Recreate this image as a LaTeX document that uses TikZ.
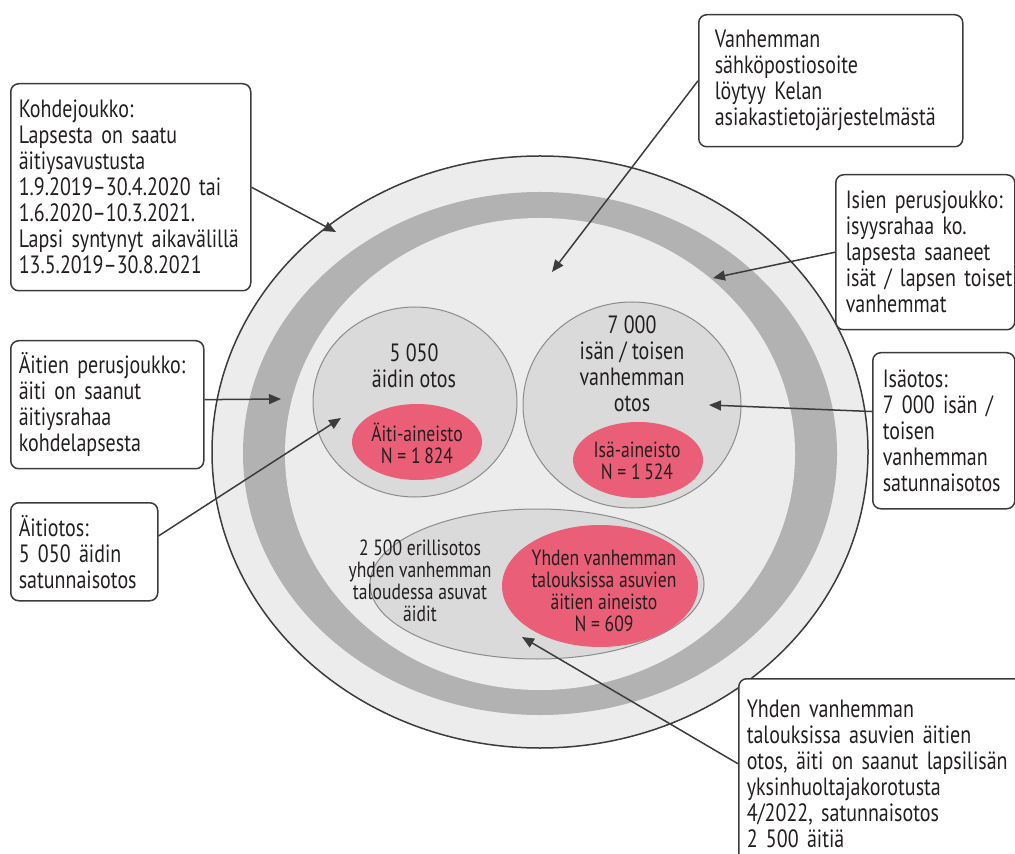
\documentclass[tikz,border=0pt]{standalone}
\usepackage{fontspec}
\setmainfont[FakeStretch=0.8]{PT Sans}
\usetikzlibrary{arrows.meta, positioning, shapes.geometric}
\usepackage{xcolor}
\definecolor{lightfill}{RGB}{236,236,236}
\definecolor{ringfill}{RGB}{178,178,178}
\definecolor{samplefill}{RGB}{219,218,219}
\definecolor{sampleline}{RGB}{140,140,140}
\definecolor{datared}{RGB}{235,94,119}
\definecolor{darkline}{RGB}{60,60,60}
\definecolor{textdark}{RGB}{35,31,32}
\def\boxfont{\fontsize{12.5}{13}\selectfont\hyphenpenalty=10000\relax}
\def\smallfont{\fontsize{11}{11}\selectfont}

\begin{document}
\begin{tikzpicture}[x=0.5pt, y=-0.5pt, >={Triangle[length=6pt,width=5pt]}, text=textdark]
    \tikzstyle{infobox}=[draw=darkline, line width=0.75pt, rounded corners=4pt, fill=white, align=left, inner sep=4pt, anchor=north west, font=\boxfont]
    \tikzstyle{disc}=[ellipse, inner sep=0pt]
    \tikzstyle{sample}=[disc, fill=samplefill, draw=sampleline, line width=0.5pt]
    \tikzstyle{data}=[disc, fill=datared]
    \tikzstyle{pointer}=[->, draw=darkline, line width=0.75pt]
    \useasboundingbox (0,0) rectangle (1015,854);

    % Population circle and the ring
    \node[disc, fill=lightfill, draw=darkline, line width=0.75pt, minimum width=328pt, minimum height=296pt] (perus) at (540,452) {};
    \node[disc, fill=ringfill, minimum width=297pt, minimum height=261.5pt] (ring) at (540,453.5) {};
    \node[disc, fill=lightfill, minimum width=255pt, minimum height=236pt] (sisa) at (540,454) {};

    % Samples
    \node[sample, minimum width=102pt, minimum height=95pt] (aiti) at (415,402) {};
    \node[data, minimum width=65pt, minimum height=38pt] (aiti-N) at (417,442) {};
    \node[sample, minimum width=109pt, minimum height=103pt] (isa) at (632,405) {};
    \node[data, minimum width=65pt, minimum height=38pt] (isa-N) at (638,460) {};
    \node[sample, minimum width=167pt, minimum height=75pt] (yksin) at (537,584) {};
    \node[data, minimum width=98pt, minimum height=61pt] (yksin-N) at (600,586) {};

    % Texts in the samples
    \node[align=center, font=\boxfont] (aiti-t) at (414,366) {5 050\\äidin otos};
    \node[align=center, font=\smallfont] (aiti-Nt) at (417,443) {Äiti-aineisto\\N = 1\,824};
    \node[align=center, font=\boxfont] (isa-t) at (632,364) {7 000\\isän / toisen\\vanhemman\\otos};
    \node[align=center, font=\smallfont] (isa-Nt) at (637,461) {Isä-aineisto\\N = 1\,524};
    \node[align=center, font=\smallfont] (yksin-t) at (420,581) {2 500 erillisotos\\yhden vanhemman\\taloudessa asuvat\\äidit};
    \node[align=center, font=\smallfont] (yksin-Nt) at (604,591) {Yhden vanhemman\\talouksissa asuvien\\äitien aineisto\\N = 609};

    % Explanation boxes (top left corners)
    \node[infobox, minimum width=120pt, minimum height=103.5pt, text width=112pt] (kohde) at (10,83) {Kohdejoukko:\\Lapsesta on saatu\\äitiysavustusta\\1.9.2019--30.4.2020~tai\\1.6.2020--10.3.2021.\\Lapsi~syntynyt~aikavälillä\\13.5.2019--30.8.2021};
    \node[infobox, inner xsep=8pt, minimum width=132pt, minimum height=66pt, text width=116pt] (sahko) at (698,14) {Vanhemman\\sähköpostiosoite\\löytyy Kelan\\asiakastietojärjestelmästä};
    \node[infobox, inner xsep=5pt, minimum width=89.5pt, minimum height=77.5pt, text width=79.5pt] (isien) at (835,174) {Isien~perusjoukko:\\isyysrahaa ko.\\lapsesta~saaneet\\isät~/~lapsen~toiset\\vanhemmat};
    \node[infobox, minimum width=96.5pt, minimum height=64pt, text width=88.5pt] (aitien) at (10,340) {Äitien~perusjoukko:\\äiti on saanut\\äitiysrahaa\\kohdelapsesta};
    \node[infobox, minimum width=73.5pt, minimum height=49pt, text width=65.5pt] (aitiotos) at (10,502) {Äitiotos:\\5 050~äidin\\satunnaisotos};
    \node[infobox, inner xsep=5pt, minimum width=71pt, minimum height=78pt, text width=61pt] (isaotos) at (872,352) {Isäotos:\\7~000~isän~/\\toisen\\vanhemman\\satunnaisotos};
    \node[infobox, minimum width=138pt, minimum height=95pt, text width=134pt] (yksinb) at (738,678) {Yhden vanhemman\\talouksissa~asuvien~äitien\\otos,~äiti~on~saanut~lapsilisän\\yksinhuoltajakorotusta\\4/2022, satunnaisotos\\2~500~äitiä};

    % Arrow tips
    \coordinate (t-kohde) at (336,232);
    \coordinate (t-sahko) at (552,272);
    \coordinate (t-isien) at (713,278);
    \coordinate (t-aitien) at (281,399);
    \coordinate (t-aitiotos) at (341,418);
    \coordinate (t-isaotos) at (709,405);
    \coordinate (t-yksinb) at (522,637);

    % Connect every box with its part of the picture
    \foreach \source/\dest in {kohde.east/t-kohde, sahko.west/t-sahko, isien.west/t-isien,
        aitien.3/t-aitien, aitiotos.12/t-aitiotos, isaotos.165/t-isaotos, yksinb.176/t-yksinb}
        \draw[pointer] (\source) -- (\dest);
\end{tikzpicture}
\end{document}
